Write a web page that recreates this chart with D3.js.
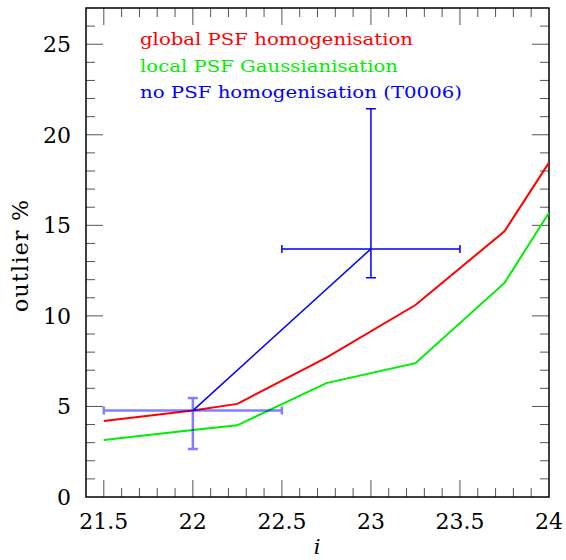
<!DOCTYPE html>
<html><head><meta charset="utf-8">
<script src="https://cdn.jsdelivr.net/npm/d3@7"></script>
<style>body{margin:0;background:#fff}svg{display:block}</style>
</head><body>
<script>
const magBins = [21.5, 22, 22.25, 22.75, 23.25, 23.75, 24];
const globalPSF = [4.19, 4.77, 5.14, 7.70, 10.6, 14.67, 18.46];
const localPSF = [3.15, 3.70, 3.96, 6.29, 7.39, 11.82, 15.69];
const noPSFx = [22, 23];
const noPSFy = [4.77, 13.7];
const noPSFxErr = [0.5, 0.5];
const noPSFyLo = [2.65, 12.1];
const noPSFyHi = [5.46, 21.44];
const xTicks = [21.5, 22, 22.5, 23, 23.5, 24];
const xTickLabels = ["21.5", "22", "22.5", "23", "23.5", "24"];
const yTicks = [0, 5, 10, 15, 20, 25];
const legendLabels = ["global PSF homogenisation", "local PSF Gaussianisation", "no PSF homogenisation (T0006)"];
const legendColors = ["#ff0000", "#00ee00", "#0000ff"];

const W = 566, H = 560;
const L = 86, R = 549, T = 8, B = 497;
const svg = d3.select("body").append("svg").attr("width", W).attr("height", H);
const x = d3.scaleLinear().domain([21.4, 24]).range([L, R]);
const y = d3.scaleLinear().domain([0, 27]).range([B, T]);
const font = "'DejaVu Serif', serif";

// minor and major ticks on all sides
const minorX = d3.range(215, 241).map(v => v / 10).filter(v => v > 21.4 && v < 24);
const minorY = d3.range(1, 27);
const tickCol = "#555";
const g = svg.append("g").attr("stroke", tickCol).attr("stroke-width", 1);
minorX.forEach(v => {
  const major = xTicks.some(t => Math.abs(t - v) < 1e-6);
  const len = major ? 17 : 9;
  g.append("line").attr("x1", x(v)).attr("x2", x(v)).attr("y1", B).attr("y2", B - len);
  g.append("line").attr("x1", x(v)).attr("x2", x(v)).attr("y1", T).attr("y2", T + len);
});
minorY.forEach(v => {
  const major = yTicks.includes(v);
  const len = major ? 17 : 9;
  g.append("line").attr("y1", y(v)).attr("y2", y(v)).attr("x1", L).attr("x2", L + len);
  g.append("line").attr("y1", y(v)).attr("y2", y(v)).attr("x1", R).attr("x2", R - len);
});

// frame
svg.append("rect").attr("x", L).attr("y", T).attr("width", R - L).attr("height", B - T)
  .attr("fill", "none").attr("stroke", "#000").attr("stroke-width", 1.5);

// tick labels
svg.append("g").selectAll("text").data(xTicks).join("text")
  .attr("x", d => x(d)).attr("y", 529).attr("text-anchor", "middle")
  .attr("font-family", font).attr("font-size", 22).attr("fill", "#000")
  .text((d, i) => xTickLabels[i]);
svg.append("g").selectAll("text").data(yTicks).join("text")
  .attr("x", 71).attr("y", d => y(d) + 8).attr("text-anchor", "end")
  .attr("font-family", font).attr("font-size", 22).attr("fill", "#000")
  .text(d => d);

// axis titles
svg.append("text").attr("x", 317).attr("y", 554).attr("text-anchor", "middle")
  .attr("font-family", font).attr("font-style", "italic").attr("font-size", 21).text("i");
svg.append("text").attr("transform", "translate(28,256) rotate(-90)").attr("text-anchor", "middle")
  .attr("font-family", font).attr("font-size", 22)
  .attr("textLength", 112).attr("lengthAdjust", "spacing").text("outlier %");

const line = d3.line().x(d => x(d[0])).y(d => y(d[1]));

function errBar(i, col, w, op) {
  const eg = svg.append("g").attr("stroke", col).attr("stroke-width", w).attr("stroke-opacity", op).attr("fill", "none");
  const cx = x(noPSFx[i]), cy = y(noPSFy[i]);
  const x0 = x(noPSFx[i] - noPSFxErr[i]), x1 = x(noPSFx[i] + noPSFxErr[i]);
  const y0 = y(noPSFyLo[i]), y1 = y(noPSFyHi[i]);
  eg.append("path").attr("d", `M${x0},${cy}H${x1}M${cx},${y0}V${y1}M${x0},${cy-4}V${cy+4}M${x1},${cy-4}V${cy+4}M${cx-5},${y0}H${cx+5}M${cx-5},${y1}H${cx+5}`);
}

svg.append("path").datum(magBins.map((m, i) => [m, localPSF[i]]))
  .attr("d", line).attr("fill", "none").attr("stroke", legendColors[1]).attr("stroke-width", 2);
svg.append("path").datum(magBins.map((m, i) => [m, globalPSF[i]]))
  .attr("d", line).attr("fill", "none").attr("stroke", legendColors[0]).attr("stroke-width", 2);
errBar(0, "#0000ff", 2.5, 0.5);
errBar(1, "#0000ff", 1.5, 1);
svg.append("path").datum(noPSFx.map((m, i) => [m, noPSFy[i]]))
  .attr("d", line).attr("fill", "none").attr("stroke", legendColors[2]).attr("stroke-width", 1.5);

// legend
const legW = [273, 258, 322];
svg.append("g").selectAll("text").data(legendLabels).join("text")
  .attr("x", 140).attr("y", (d, i) => 45 + i * 26.5)
  .attr("font-family", font).attr("font-size", 17)
  .attr("fill", (d, i) => legendColors[i])
  .attr("textLength", (d, i) => legW[i]).attr("lengthAdjust", "spacingAndGlyphs")
  .text(d => d);
</script>
</body></html>
